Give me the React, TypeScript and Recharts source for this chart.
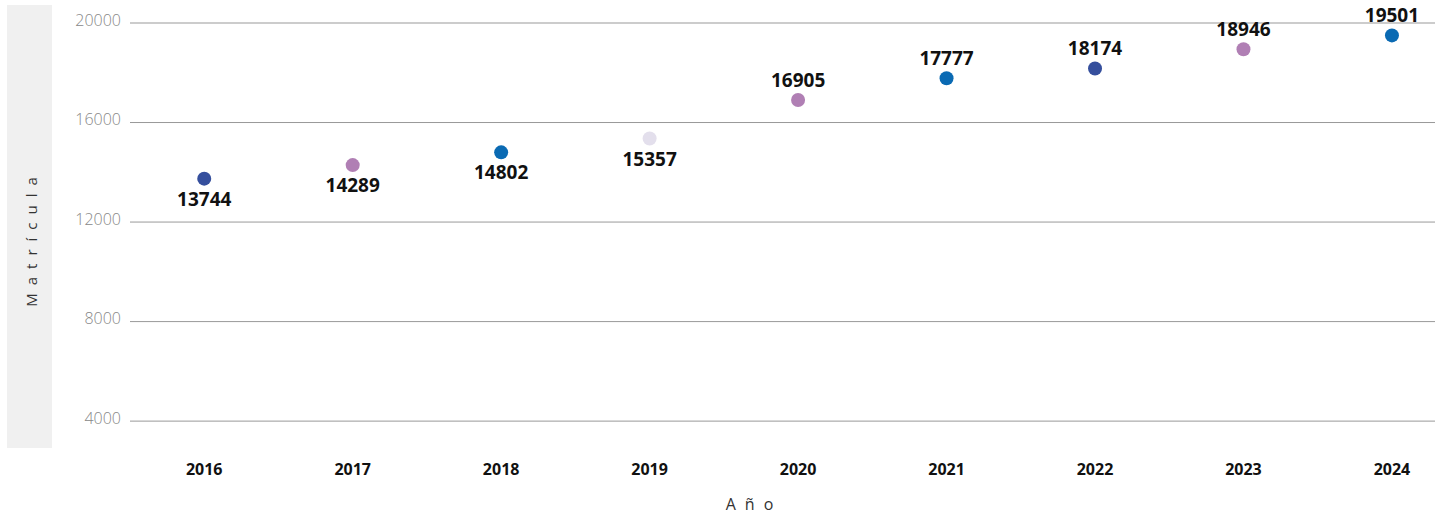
import { ComposedChart, Scatter, XAxis, YAxis, ReferenceLine, Cell } from 'recharts';

const years = [2016, 2017, 2018, 2019, 2020, 2021, 2022, 2023, 2024];
const matricula = [13744, 14289, 14802, 15357, 16905, 17777, 18174, 18946, 19501];
const pointColors = ['#354f9d', '#b07fb4', '#0a6ab3', '#e3dfec', '#b07fb4', '#0a6ab3', '#354f9d', '#b07fb4', '#0a6ab3'];
const labelBelow = [true, true, true, true, false, false, false, false, false];
const yTicks = [4000, 8000, 12000, 16000, 20000];

const data = years.map((year, i) => ({ year, value: matricula[i], below: labelBelow[i] }));

const Dot = (props: any) => {
  const { cx, cy, fill, payload } = props;
  return (
    <g>
      <circle cx={cx} cy={cy} r={7} fill={fill} />
      <text
        x={cx}
        y={payload.below ? cy + 27 : cy - 13}
        textAnchor="middle"
        fontFamily="'Open Sans', sans-serif"
        fontWeight={700}
        fontSize={19}
        fill="#111"
      >
        {payload.value}
      </text>
    </g>
  );
};

const YLabel = () => (
  <g>
    <rect x={7} y={5} width={45} height={443} fill="#f0f0f0" />
    <text
      x={0}
      y={0}
      transform="translate(37, 238) rotate(-90)"
      textAnchor="middle"
      fontFamily="'Open Sans', sans-serif"
      fontSize={15}
      letterSpacing={8}
      fill="#333"
    >
      Matrícula
    </text>
  </g>
);

const XLabel = () => (
  <text
    x={754}
    y={510}
    textAnchor="middle"
    fontFamily="'Open Sans', sans-serif"
    fontSize={16}
    letterSpacing={9}
    fill="#333"
  >
    Año
  </text>
);

const App = () => {
  return (
    <div style={{ position: 'absolute', left: 0, top: 0, width: 1445, height: 515, background: '#fff' }}>
      <ComposedChart width={1445} height={515} data={data} margin={{ top: 23, right: 10, left: 0, bottom: 0 }}>
        {yTicks.map((t) => (
          <ReferenceLine key={t} y={t} stroke="#999" strokeWidth={1} />
        ))}
        <XAxis
          dataKey="year"
          type="number"
          domain={[2015.5, 2024.29]}
          ticks={years}
          axisLine={false}
          tickLine={false}
          height={69}
          tickMargin={12}
          tick={{ fill: '#111', fontSize: 16, fontWeight: 700, fontFamily: "'Open Sans', sans-serif" }}
          label={{ content: () => <XLabel /> }}
        />
        <YAxis
          type="number"
          domain={[3000, 20000]}
          ticks={yTicks}
          axisLine={false}
          tickLine={false}
          width={130}
          tickMargin={3}
          tick={{ fill: '#888', fontSize: 16, fontWeight: 300, fontFamily: "'Open Sans', sans-serif", dy: -3 }}
          label={{ content: () => <YLabel /> }}
        />
        <Scatter dataKey="value" shape={<Dot />} isAnimationActive={false}>
          {data.map((d, i) => (
            <Cell key={d.year} fill={pointColors[i]} />
          ))}
        </Scatter>
      </ComposedChart>
    </div>
  );
};

export default App;
